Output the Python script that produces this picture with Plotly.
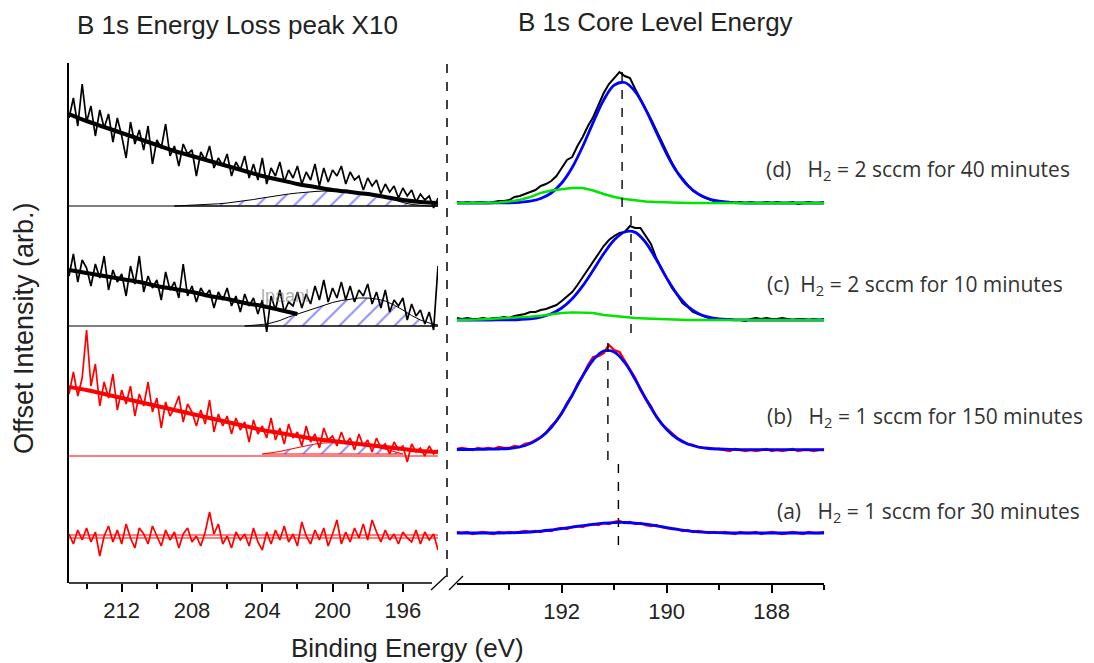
import numpy as np
import plotly.graph_objects as go

W, H = 1094, 663

# ---------------- data ----------------
# energy grids (eV)
E_loss = np.round(np.arange(215.0, 193.99, -0.25), 2)      # 85 points, 215 -> 194
E_loss_fit = np.arange(215, 193, -1)                         # 22 points, 215 -> 194
E_core = np.round(np.arange(194.0, 186.95, -0.1), 1)        # 71 points, 194 -> 187
E_core_fit = np.round(np.arange(194.0, 186.95, -0.2), 1)    # 36 points

# vertical offsets of the stacked spectra (arb.)
loss_offset = {"d": 377, "c": 257, "b": 127, "a": 45}
core_offset = {"d": 380, "c": 263, "b": 133, "a": 50}

# ---- B 1s energy loss region (x10) ----
loss_d = [88, 108, 80, 122, 84, 100, 70, 96, 78, 92, 64, 88, 70, 48, 84, 62,
          76, 56, 80, 42, 66, 58, 82, 50, 60, 40, 62, 52, 56, 30, 54, 46,
          60, 38, 48, 40, 52, 30, 44, 36, 50, 28, 42, 26, 48, 22, 38, 30,
          44, 24, 36, 28, 40, 22, 34, 26, 42, 20, 38, 24, 36, 30, 40, 22,
          34, 26, 30, 16, 28, 20, 26, 12, 22, 14, 20, 8, 18, 10, 16, 4,
          12, 6, 10, -2, 8]
loss_c = [50, 72, 44, 66, 58, 40, 62, 48, 70, 36, 56, 44, 52, 30, 60, 42,
          70, 34, 50, 38, 46, 26, 54, 36, 44, 28, 62, 30, 40, 24, 38, 30,
          36, 18, 34, 26, 38, 20, 30, 14, 32, 20, 28, 12, 26, -6, 30, 16,
          36, 14, 24, 20, 34, 18, 32, 22, 40, 26, 46, 24, 38, 28, 44, 26,
          40, 24, 36, 30, 42, 22, 34, 18, 36, 14, 26, 20, 28, 6, 22, 10,
          16, 2, 14, -4, 60]
loss_b = [62, 84, 60, 78, 126, 70, 92, 50, 74, 58, 82, 46, 66, 52, 70, 40,
          62, 50, 74, 44, 58, 28, 54, 40, 48, 60, 34, 52, 44, 30, 46, 32,
          56, 24, 42, 30, 40, 22, 38, 26, 34, 14, 36, 22, 30, 18, 38, 16,
          28, 12, 32, 18, 24, 10, 30, 14, 22, 8, 28, 16, 20, 10, 24, 12,
          18, 6, 22, 10, 16, 4, 18, 8, 12, 2, 14, 6, 10, -6, 12, 4,
          8, 0, 10, 2, 6]
loss_a = [4, -6, 8, -2, 10, -4, 6, -18, 2, 12, -4, 8, -6, 14, 0, -10,
          10, 4, -6, 12, 2, -8, 8, -2, 6, -10, 4, 10, -4, 2, -8, 6,
          26, 4, 14, -6, 2, -10, 6, -2, 4, -8, 10, -4, -12, 6, -6, 8,
          -2, 12, -4, 4, -8, 16, 2, -6, 8, -2, 10, -8, 4, 18, -6, 6,
          -4, 10, 0, 14, -2, 18, 6, -4, 8, -2, 4, -6, 6, 0, -4, 8,
          -6, 6, -2, 4, -12]

# smooth background fits (1 eV grid)
loss_fit_d = [92, 85, 79, 73, 67, 61, 55, 50, 45, 40, 35, 30, 26, 22, 19, 16,
              14, 12, 9, 6, 4, 3]
loss_fit_c = [56, 53, 50, 47, 44, 40, 37, 34, 30, 27, 23, 20, 16, 12]
loss_fit_b = [69, 66, 62, 58, 54, 50, 46, 42, 38, 34, 30, 26, 23, 20, 17, 15,
              13, 11, 9, 7, 5, 4]

# hatched energy-loss peaks (0.5 eV grid)
peak_d_E = [209.0, 208.5, 208.0, 207.5, 207.0, 206.5, 206.0, 205.5, 205.0, 204.5,
            204.0, 203.5, 203.0, 202.5, 202.0, 201.5, 201.0, 200.5, 200.0, 199.5,
            199.0, 198.5, 198.0, 197.5, 197.0, 196.5, 196.0, 195.5, 195.0, 194.5, 194.0]
peak_d = [0, 0.3, 0.6, 1, 1.5, 2.2, 3, 4, 5, 6.5, 8, 9.5, 11, 12, 13, 14, 14.5,
          15, 15, 14.5, 14, 13, 12, 10.5, 9, 6, 3.5, 1.5, 0.5, 0, 0]
peak_c_E = [205.0, 204.5, 204.0, 203.5, 203.0, 202.5, 202.0, 201.5, 201.0, 200.5,
            200.0, 199.5, 199.0, 198.5, 198.0, 197.5, 197.0, 196.5, 196.0, 195.5,
            195.0, 194.5, 194.0]
peak_c = [0, 0.5, 1.5, 3, 5.5, 9, 12, 15, 18, 21, 23.5, 25.5, 27, 28, 28, 27,
          25, 21, 16, 10.5, 6, 3, 1]
peak_b_E = [204.0, 203.5, 203.0, 202.5, 202.0, 201.5, 201.0, 200.5, 200.0, 199.5,
            199.0, 198.5, 198.0, 197.5, 197.0, 196.5, 196.0]
peak_b = [2, 3, 4.5, 6.5, 8.5, 10.5, 12, 13, 13.5, 13.5, 13, 12, 11, 9, 7, 4.5, 2]
peak_b_floor = 2

# ---- B 1s core level ----
core_d = [1, 0, 1, 0, 1, 1, 0, 1, 2, 2,
          3, 6, 7, 9, 11, 13, 17, 19, 22, 27,
          35, 43, 46, 57, 66, 77, 86, 98, 110, 119,
          125, 131, 127, 125, 114, 104, 95, 84, 73, 62,
          51, 40, 31, 24, 18, 12, 9, 6, 4, 2,
          2, 1, 1, 0, 1, 0, 1, 0, 0, 1,
          0, 1, 0, 0, 1, -1, 0, 1, 0, 0,
          1]
core_d_fit = [0, 0, 0, 0, 0.1, 0.2, 0.7, 1.8, 4.5, 10, 20, 35.5, 56.5, 80.7, 103,
              117.8, 120.5, 111.4, 93.4, 71, 49, 30.7, 17.4, 9, 4.2, 1.8, 0.7, 0.2,
              0, 0, 0, 0, 0, 0, 0, 0]
core_d_comp = [0, 0, 0, 0, 0.5, 1.5, 3, 6, 10, 12.5, 14, 15, 15, 12.5, 9, 6, 4,
               2.5, 1.5, 1, 0.5, 0, 0, 0, 0, 0, 0, 0, 0, 0, 0, 0, 0, 0, 0, 0]

core_c = [2, 1, 2, 1, 1, 2, 1, 2, 2, 3,
          2, 4, 5, 6, 8, 8, 10, 11, 13, 15,
          19, 24, 28, 35, 43, 50, 59, 66, 74, 80,
          84, 87, 88, 94, 92, 92, 84, 76, 62, 52,
          42, 32, 25, 17, 13, 8, 6, 4, 2, 1,
          1, 0, 1, 0, 0, -1, 1, 2, 1, 2,
          1, 1, 2, 1, 0, 1, 1, 0, 1, 0,
          1]
core_c_fit = [0, 0, 0, 0, 0.05, 0.2, 0.5, 1.2, 2.9, 6.2, 12, 21.3, 34.1, 49.8,
              66.2, 80, 88, 87.6, 77.5, 60.6, 41.9, 25.6, 13.8, 6.6, 2.8, 1, 0.4,
              0.1, 0, 0, 0, 0, 0, 0, 0, 0]
core_c_comp = [0, 0, 0.5, 1, 1.5, 2, 2.5, 3.3, 4.3, 6, 7, 7.6, 7.6, 7, 5, 3.8, 3,
               2, 1.5, 1, 0.5, 0, 0, 0, 0, 0, 0, 0, 0, 0, 0, 0, 0, 0, 0, 0]

core_b = [1, 2, 1, 0, 2, 1, 2, 1, 3, 2,
          2, 4, 3, 6, 7, 10, 13, 17, 24, 29,
          36, 47, 54, 66, 74, 85, 93, 94, 97, 105,
          100, 98, 89, 80, 72, 60, 51, 44, 33, 26,
          21, 16, 12, 9, 6, 5, 3, 2, 2, 1,
          1, 0, -1, 1, 0, -1, 0, -1, 0, 1,
          -1, 0, -1, 0, 1, -1, 0, 0, -1, 0,
          0]
core_b_fit = [0.5, 0.5, 0.6, 0.8, 1, 1.5, 3, 6.5, 12.5, 22.5, 37, 55, 74, 90, 99,
              98, 87.5, 70.5, 51.5, 34, 20.5, 11.5, 6, 3, 1.5, 1, 0.6, 0.4,
              0.3, 0.3, 0.3, 0.3, 0.3, 0.3, 0.3, 0.3]

core_a = [1, 0, 1, -1, 0, 1, 0, -1, 1, 0,
          1, 0, 1, 2, 1, 2, 1, 3, 2, 4,
          5, 4, 6, 7, 6, 8, 9, 8, 10, 9,
          11, 12, 10, 11, 9, 10, 8, 7, 8, 6,
          5, 4, 4, 2, 3, 1, 2, 1, 0, 1,
          0, 1, 0, -1, 1, 0, 0, 1, -1, 0,
          1, 0, -1, 0, 1, 0, -1, 1, 0, 0,
          1]
core_a_fit = [0, 0, 0, 0, 0, 0.2, 0.5, 1, 1.8, 3, 4.3, 5.8, 7.3, 8.7, 9.8, 10.4,
              10.5, 9.9, 8.8, 7.2, 5.4, 3.6, 2.2, 1.2, 0.6, 0.3,
              0, 0, 0, 0, 0, 0, 0, 0, 0, 0]

# peak-position markers (eV) and their vertical extents (arb.)
marker_E = {"d": 190.85, "c": 190.68, "b": 191.12, "a": 190.92}
marker_span = {"d": (376, 515), "c": (250, 368), "b": (123, 248), "a": (38, 123)}

loss_ticks = [212, 208, 204, 200, 196]
loss_minor = [214, 210, 206, 202, 198]
core_ticks = [192, 190, 188]
core_minor = [193, 191, 189, 187]

labels = {
    "d": "(d)\u00a0\u00a0\u00a0H<sub>2</sub> = 2 sccm for 40 minutes",
    "c": "(c)\u00a0\u00a0H<sub>2</sub> = 2 sccm for 10 minutes",
    "b": "(b)\u00a0\u00a0\u00a0H<sub>2</sub> = 1 sccm for 150 minutes",
    "a": "(a)\u00a0\u00a0\u00a0H<sub>2</sub> = 1 sccm for 30 minutes",
}

# ---------------- styling ----------------
BLACK, RED, BLUE, GREEN, HATCH = "#000000", "#ff0000", "#0000ff", "#00e400", "#1a1aff"
ARIAL = "Liberation Sans, Arial, sans-serif"
LABEL_FONT = "Open Sans, sans-serif"


def px(x):
    return x / W


def py(y):
    return 1 - y / H


fig = go.Figure()


def add(x, y, color, width, xa="x", **kw):
    fig.add_trace(go.Scatter(x=list(x), y=list(y), mode="lines", xaxis=xa, yaxis="y",
                             line=dict(color=color, width=width), hoverinfo="skip", **kw))


def hatch(E, top, off, floor, outline):
    xs = list(E) + list(E)[::-1]
    ys = [off + v for v in top] + [off + floor] * len(E)
    fig.add_trace(go.Scatter(x=xs, y=ys, mode="lines", xaxis="x", yaxis="y",
                             fill="toself", fillcolor="rgba(0,0,0,0)",
                             fillpattern=dict(shape="/", fgcolor=HATCH, size=13, solidity=0.15),
                             line=dict(color=outline, width=1), hoverinfo="skip"))


# ---- left panel ----
spec_loss = {"d": (loss_d, BLACK), "c": (loss_c, BLACK), "b": (loss_b, RED), "a": (loss_a, RED)}
peaks = {"d": (peak_d_E, peak_d, 0), "c": (peak_c_E, peak_c, 0), "b": (peak_b_E, peak_b, peak_b_floor)}
fits = {"d": (E_loss_fit, loss_fit_d), "c": (E_loss_fit[:len(loss_fit_c)], loss_fit_c),
        "b": (E_loss_fit, loss_fit_b)}

for k in ["d", "c", "b", "a"]:
    vals, col = spec_loss[k]
    off = loss_offset[k]
    add([E_loss[0], E_loss[-1]], [off, off], col, 1.2)
    if k == "a":
        add([E_loss[0], E_loss[-1]], [off + 3, off + 3], col, 1.2)
    if k in peaks:
        pe, pv, fl = peaks[k]
        hatch(pe, pv, off, fl, col)
    add(E_loss, [off + v for v in vals], col, 1.7)
    if k in fits:
        fe, fv = fits[k]
        add(fe, [off + v for v in fv], col, 4, line_shape="spline")

# ---- right panel ----
core_sets = {
    "d": (core_d, BLACK, core_d_fit, core_d_comp),
    "c": (core_c, BLACK, core_c_fit, core_c_comp),
    "b": (core_b, RED, core_b_fit, None),
    "a": (core_a, RED, core_a_fit, None),
}
for k in ["d", "c", "b", "a"]:
    data, col, fit, comp = core_sets[k]
    off = core_offset[k]
    add(E_core, [off + v for v in data], col, 2.4 if col == RED else 2.0, xa="x2")
    add(E_core_fit, [off + v for v in fit], BLUE, 2.8, xa="x2", line_shape="spline")
    if comp is not None:
        add(E_core_fit, [off + v for v in comp], GREEN, 2.4, xa="x2")

# ---------------- layout ----------------
shapes = []
# left x-axis line (ends at the break)
shapes.append(dict(type="line", xref="paper", yref="paper", x0=px(69), x1=px(432),
                   y0=py(583), y1=py(583), line=dict(color=BLACK, width=1.5)))
# axis-break slashes
shapes.append(dict(type="line", xref="paper", yref="paper", x0=px(431), x1=px(446),
                   y0=py(590), y1=py(576), line=dict(color=BLACK, width=1.3)))
shapes.append(dict(type="line", xref="paper", yref="paper", x0=px(449), x1=px(463),
                   y0=py(590), y1=py(576), line=dict(color=BLACK, width=1.3)))
# vertical dashed separator
shapes.append(dict(type="line", xref="paper", yref="paper", x0=px(447), x1=px(447),
                   y0=py(64), y1=py(580), line=dict(color=BLACK, width=1.5, dash="dash")))
# peak-position markers
for k in ["d", "c", "b", "a"]:
    y0, y1 = marker_span[k]
    shapes.append(dict(type="line", xref="x2", yref="y", x0=marker_E[k], x1=marker_E[k],
                       y0=y0, y1=y1, line=dict(color=BLACK, width=1.4, dash="dash")))

annotations = [
    dict(text="B 1s Energy Loss peak X10", x=px(75), y=py(25), xref="paper", yref="paper",
         xanchor="left", yanchor="middle", showarrow=False, font=dict(family=ARIAL, size=26, color="#222")),
    dict(text="B 1s Core Level Energy", x=px(516), y=py(22), xref="paper", yref="paper",
         xanchor="left", yanchor="middle", showarrow=False, font=dict(family=ARIAL, size=26, color="#222")),
    dict(text="Binding Energy (eV)", x=px(407), y=py(648), xref="paper", yref="paper",
         xanchor="center", yanchor="middle", showarrow=False, font=dict(family=ARIAL, size=26, color="#222")),
    dict(text="Offset Intensity (arb.)", x=px(24), y=py(328), xref="paper", yref="paper",
         xanchor="center", yanchor="middle", textangle=-90, showarrow=False,
         font=dict(family=ARIAL, size=27, color="#222")),
    dict(text="lpaanl", x=px(285), y=py(296), xref="paper", yref="paper",
         xanchor="center", yanchor="middle", showarrow=False,
         font=dict(family=ARIAL, size=18, color="rgba(120,120,120,0.6)")),
]
label_pos = {"d": (764, 170), "c": (765, 285), "b": (765, 417), "a": (775, 512)}
for k in ["d", "c", "b", "a"]:
    x, y = label_pos[k]
    annotations.append(dict(text=labels[k], x=px(x), y=py(y), xref="paper", yref="paper",
                            xanchor="left", yanchor="middle", showarrow=False,
                            font=dict(family=LABEL_FONT, size=21, color="#333")))

tickfont = dict(family=ARIAL, size=22, color="#222")
fig.update_layout(
    width=W, height=H, margin=dict(l=0, r=0, t=0, b=0),
    paper_bgcolor="white", plot_bgcolor="white", showlegend=False,
    xaxis=dict(domain=[px(69), px(438)], range=[215, 194], anchor="y",
               tickvals=loss_ticks, ticks="outside", ticklen=8, tickwidth=1.5, tickcolor=BLACK,
               minor=dict(tickvals=loss_minor, ticks="outside", ticklen=5, tickwidth=1.5, tickcolor=BLACK),
               showline=False, showgrid=False, zeroline=False, tickfont=tickfont),
    xaxis2=dict(domain=[px(456.7), px(824.2)], range=[194, 187], anchor="y",
                tickvals=core_ticks, ticks="outside", ticklen=8, tickwidth=1.5, tickcolor=BLACK,
                minor=dict(tickvals=core_minor, ticks="outside", ticklen=5, tickwidth=1.5, tickcolor=BLACK),
                showline=True, linecolor=BLACK, linewidth=1.5,
                showgrid=False, zeroline=False, tickfont=tickfont),
    yaxis=dict(domain=[80 / H, 600 / H], range=[0, 520], anchor="x",
               showline=True, linecolor=BLACK, linewidth=1.5, ticks="", showticklabels=False,
               showgrid=False, zeroline=False),
    shapes=shapes, annotations=annotations,
)

fig.write_html("out.html")
